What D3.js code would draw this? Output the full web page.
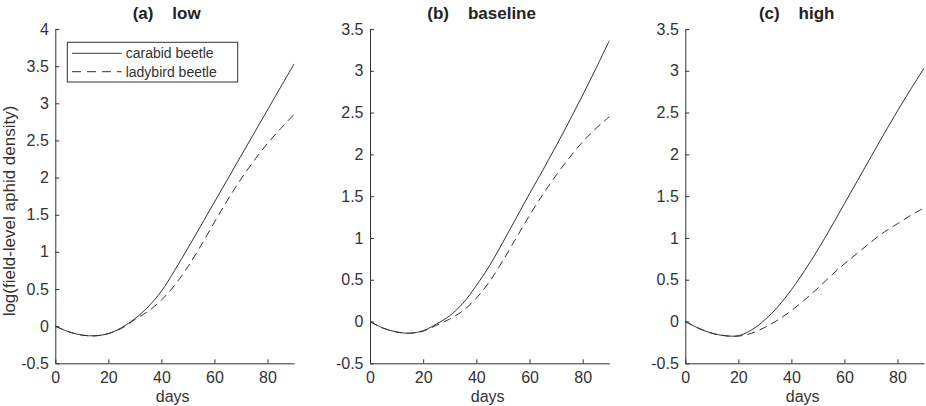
<!DOCTYPE html>
<html>
<head>
<meta charset="utf-8">
<title>aphid density</title>
<style>
  body { margin: 0; background: #fff; }
  svg { display: block; font-family: Arial, "Liberation Sans", sans-serif; }
  .axis path, .axis line { stroke: #333; }
  .axis text { fill: #333; font-size: 16px; font-family: Arial, "Liberation Sans", sans-serif; }
  .curve { fill: none; stroke: #333; stroke-width: 1; }
  .dashed { stroke-dasharray: 8,5; }
</style>
</head>
<body>
<svg width="926" height="406"></svg>
<script src="https://cdn.jsdelivr.net/npm/d3@7"></script>
<script>
// days sampled every 5
var days = [0, 5, 10, 15, 20, 25, 30, 35, 40, 45, 50, 55, 60, 65, 70, 75, 80, 85, 90];

var carabidLow = [0, -0.075, -0.12, -0.13, -0.10, -0.02, 0.10, 0.26, 0.47, 0.75, 1.05, 1.36, 1.67, 1.98, 2.29, 2.60, 2.91, 3.22, 3.53];
var ladybirdLow = [0, -0.075, -0.12, -0.13, -0.10, -0.03, 0.09, 0.20, 0.35, 0.55, 0.80, 1.09, 1.40, 1.70, 1.98, 2.23, 2.46, 2.66, 2.85];

var carabidBase = [0, -0.08, -0.125, -0.14, -0.11, -0.03, 0.07, 0.22, 0.43, 0.67, 0.95, 1.24, 1.53, 1.81, 2.10, 2.40, 2.71, 3.03, 3.36];
var ladybirdBase = [0, -0.08, -0.125, -0.14, -0.115, -0.045, 0.03, 0.13, 0.28, 0.48, 0.73, 1.00, 1.27, 1.52, 1.75, 1.96, 2.15, 2.31, 2.45];

var carabidHigh = [0, -0.08, -0.14, -0.17, -0.17, -0.10, 0.02, 0.18, 0.38, 0.61, 0.86, 1.13, 1.41, 1.69, 1.97, 2.25, 2.52, 2.78, 3.03];
var ladybirdHigh = [0, -0.08, -0.14, -0.17, -0.175, -0.14, -0.07, 0.02, 0.13, 0.26, 0.40, 0.55, 0.69, 0.82, 0.95, 1.07, 1.17, 1.27, 1.36];

var titles = ["(a)    low", "(b)    baseline", "(c)    high"];
var yMax = [4, 3.5, 3.5];
var xTicks = [0, 20, 40, 60, 80];
var seriesNames = ["carabid beetle", "ladybird beetle"];

var panels = [
  { title: titles[0], top: yMax[0], carabid: carabidLow, ladybird: ladybirdLow, left: 55.3, right: 294 },
  { title: titles[1], top: yMax[1], carabid: carabidBase, ladybird: ladybirdBase, left: 370, right: 609.3 },
  { title: titles[2], top: yMax[2], carabid: carabidHigh, ladybird: ladybirdHigh, left: 685.3, right: 924 }
];

var svg = d3.select("svg"),
  plotTop = 29,
  plotBottom = 363.3;

panels.forEach(function(p, i) {
  var x = d3.scaleLinear().domain([0, 90]).range([p.left, p.right]);
  var y = d3.scaleLinear().domain([-0.5, p.top]).range([plotBottom, plotTop]);
  var yTicks = d3.range(-0.5, p.top + 0.001, 0.5);

  var g = svg.append("g");

  g.append("g")
    .attr("class", "axis")
    .attr("transform", "translate(0," + plotBottom + ")")
    .call(d3.axisBottom(x).tickValues(xTicks).tickSizeInner(-4).tickSizeOuter(0).tickPadding(8)
      .tickFormat(function(d) { return String(d); }));

  g.append("g")
    .attr("class", "axis")
    .attr("transform", "translate(" + p.left + ",0)")
    .call(d3.axisLeft(y).tickValues(yTicks).tickSizeInner(-4).tickSizeOuter(0).tickPadding(6.5)
      .tickFormat(function(d) { return String(+d.toFixed(1)); }));

  var line = function(vals) {
    return d3.line()
      .x(function(d, j) { return x(days[j]); })
      .y(function(d) { return y(d); })
      .curve(d3.curveCatmullRom)(vals);
  };

  g.append("path").attr("class", "curve").attr("d", line(p.carabid));
  g.append("path").attr("class", "curve dashed").attr("d", line(p.ladybird));

  g.append("text")
    .attr("x", (p.left + p.right) / 2)
    .attr("dx", -8)
    .attr("y", 19)
    .attr("text-anchor", "middle")
    .style("font-weight", "bold")
    .style("font-size", "17px")
    .style("white-space", "pre")
    .attr("fill", "#222")
    .text(p.title);

  g.append("text")
    .attr("x", (p.left + p.right) / 2 - 2)
    .attr("y", 402)
    .attr("text-anchor", "middle")
    .style("font-size", "16px")
    .attr("fill", "#333")
    .text("days");
});

svg.append("text")
  .attr("transform", "translate(14.5,211) rotate(-90)")
  .attr("text-anchor", "middle")
  .style("font-size", "17px")
  .attr("fill", "#333")
  .text("log(field-level aphid density)");

// legend in panel (a)
var legend = svg.append("g");
legend.append("rect")
  .attr("x", 67.3).attr("y", 42.3).attr("width", 170.4).attr("height", 39.7)
  .attr("fill", "#fff").attr("stroke", "#333").attr("stroke-width", 1);

seriesNames.forEach(function(name, i) {
  var ly = 53.3 + i * 18.4;
  legend.append("line")
    .attr("class", "curve" + (i === 1 ? " dashed" : ""))
    .attr("x1", 72).attr("x2", 121.7).attr("y1", ly).attr("y2", ly)
    .style("stroke-dasharray", i === 1 ? "9,6" : null);
  legend.append("text")
    .attr("x", 125.7).attr("y", ly + 5)
    .style("font-size", "14px")
    .attr("fill", "#333")
    .text(name);
});
</script>
</body>
</html>
